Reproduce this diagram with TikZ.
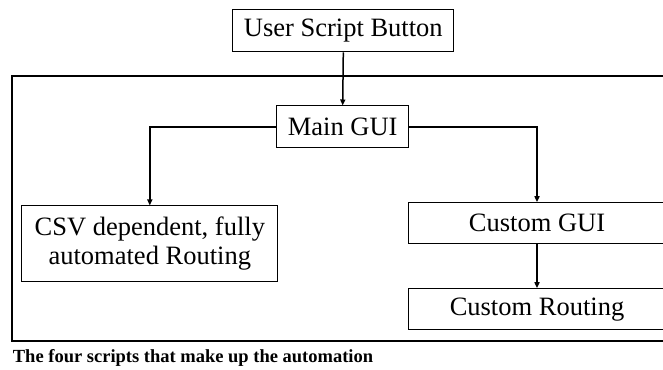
\documentclass[tikz,border=0pt]{standalone}
\usepackage{fontspec}
\setmainfont{Liberation Serif}
\usetikzlibrary{arrows.meta}
\begin{document}
\begin{tikzpicture}[x=1pt,y=1pt,
  box/.style={draw=black,line width=1pt,inner sep=0pt,font=\fontsize{26.5}{29}\selectfont,align=center},
  conn/.style={draw=black,line width=1.5pt,-{Triangle[length=6pt,width=5pt]}}]
\useasboundingbox (0,0) rectangle (663,369);
\clip (0,0) rectangle (663,369);
\fill[white] (0,0) rectangle (663,369);
\draw[line width=2pt] (11.7,28.3) rectangle (670,293);
\node[box,minimum width=221pt,minimum height=42pt] (top) at (343.3,338) {User Script Button};
\node[box,minimum width=132pt,minimum height=42pt] (main) at (342.7,242) {Main GUI};
\node[box,minimum width=255.7pt,minimum height=75.7pt] (csv) at (149.8,125.2) {CSV dependent, fully\\automated Routing};
\node[box,minimum width=257.4pt,minimum height=41.3pt] (cgui) at (537,145.65) {Custom GUI};
\node[box,minimum width=257.4pt,minimum height=41.3pt] (crout) at (537,59.65) {Custom Routing};
\node[anchor=base west,inner sep=0pt,font=\fontsize{18.5}{20}\selectfont\bfseries] (cap) at (12.7,6) {The four scripts that make up the automation};
\draw[conn] (top.south) -- (main.north);
\draw[conn] (main.west) -| (csv.north);
\draw[conn] (main.east) -| (cgui.north);
\draw[conn] (cgui.south) -- (crout.north);
\end{tikzpicture}
\end{document}
